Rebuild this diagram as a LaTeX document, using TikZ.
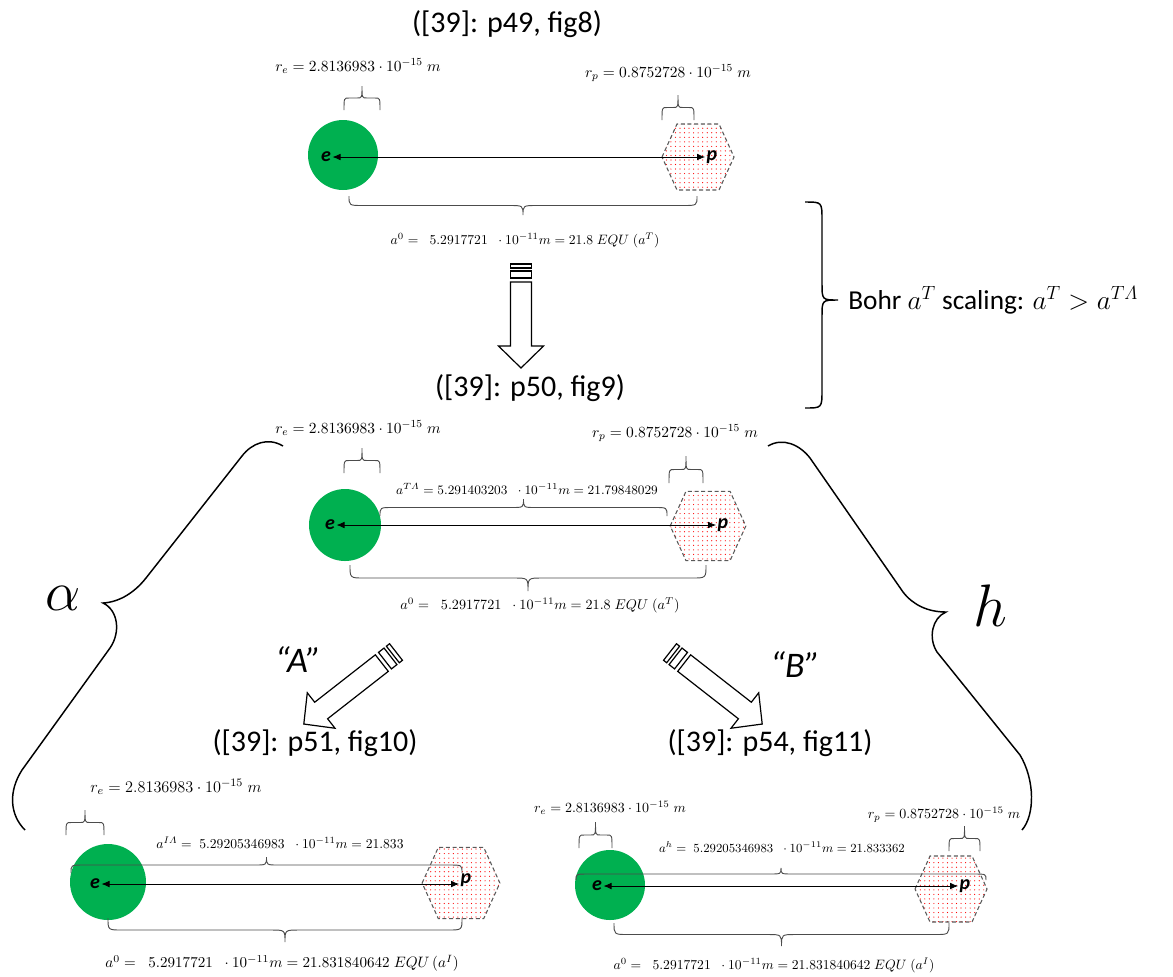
\documentclass[tikz,border=0pt]{standalone}
\usepackage{fix-cm}
\usepackage[no-math]{fontspec}
\newfontfamily\calib{Carlito}
\usetikzlibrary{arrows.meta,patterns.meta}
\definecolor{egreen}{HTML}{00B050}
\newcommand\fsz[1]{\fontsize{#1}{#1}\selectfont}
\newcommand\itLam{\mathchar"0103}
% brace: x1 x2 yend ytip rx style
\newcommand\brc[6]{%
 \pgfmathsetmacro\bxm{(#1+#2)/2}%
 \pgfmathsetmacro\bym{(#3+#4)/2}%
 \draw[#6] (#1,#3) .. controls (#1,\bym) .. ({#1+#5},\bym) -- ({\bxm-#5},\bym) .. controls (\bxm,\bym) .. (\bxm,#4) .. controls (\bxm,\bym) .. ({\bxm+#5},\bym) -- ({#2-#5},\bym) .. controls (#2,\bym) .. (#2,#3);}
% hexagon: x y scale name
\newcommand\hexa[4]{%
 \coordinate (#4) at (#1,#2);
 \begin{scope}[shift={(#4)}, scale=#3]
  \filldraw[prot] (-36,0) -- (-21,-33) -- (21,-33) -- (36,0) -- (21,33) -- (-21,33) -- cycle;
 \end{scope}}
% striped block arrow: tail, angle, length
\newcommand\blockarrow[3]{%
 \begin{scope}[shift={#1}, rotate=#2]
  \draw[barrow] (0,-10.5) rectangle (4,10.5);
  \draw[barrow] (7,-10.5) rectangle (14,10.5);
  \draw[barrow] (18,-10.5) -- ({#3-22},-10.5) -- ({#3-22},-22.5) -- (#3,0) -- ({#3-22},22.5) -- ({#3-22},10.5) -- (18,10.5) -- cycle;
 \end{scope}}
\tikzset{
 prot/.style={pattern={Dots[distance=3.4pt,radius=0.45pt]}, pattern color=red, draw=black!65, dash pattern=on 3pt off 2pt, line width=0.8pt},
 elec/.style={circle, fill=egreen, draw=none, inner sep=0pt},
 ep/.style={inner sep=1pt, font=\calib\fsz{15}\bfseries\itshape},
 dbl/.style={{Latex[length=6pt,width=5pt]}-{Latex[length=6pt,width=5pt]}, line width=0.6pt},
 sbrace/.style={draw=black!70, line width=0.7pt},
 bigbrace/.style={draw=black, line width=1.1pt},
 barrow/.style={draw=black, fill=white, line width=0.9pt, line join=miter},
 ttl/.style={inner sep=0pt, font=\calib\fsz{22.5}},
 mlbl/.style={inner sep=0pt, text=black},
}
\begin{document}
\begin{tikzpicture}[x=0.75pt,y=-0.75pt]
\useasboundingbox (0,0) rectangle (1173,976);

% ---------- titles ----------
\node[ttl] (t1) at (507,24) {([39]: p49, fig8)};
\node[ttl] (t2) at (530,388) {([39]: p50, fig9)};
\node[ttl] (t3) at (315,743) {([39]: p51, fig10)};
\node[ttl] (t4) at (770,743) {([39]: p54, fig11)};

% ---------- fig 8 ----------
\node[elec, minimum size=52.5pt] (c1) at (343,155) {};
\hexa{698}{157}{1}{h1}
\node[ep] (e1) at (326,157) {e};
\node[ep] (p1) at (712,157) {p};
\draw[dbl] (e1.east) -- (p1.west);
\brc{344}{380}{110}{86}{5}{sbrace}
\brc{662}{694}{120}{95}{5}{sbrace}
\brc{349}{697}{196}{215}{14}{sbrace}
\node[mlbl, font=\fsz{11.6}] (re1) at (358,66) {$r_e = 2.8136983\cdot 10^{-15}\;m$};
\node[mlbl, font=\fsz{11.6}] (rp1) at (668,73) {$r_p = 0.8752728\cdot 10^{-15}\;m$};
\node[mlbl, font=\fsz{10.2}] (a01) at (525,240) {$a^0 =\;\; 5.2917721\;\;\cdot 10^{-11}m = 21.8\;EQU\;(a^T)$};

% ---------- Bohr brace ----------
\draw[bigbrace] (805,202) .. controls (822,202) .. (822,220) -- (822,283) .. controls (822,300) .. (838,300) .. controls (822,300) .. (822,317) -- (822,390) .. controls (822,408) .. (805,408);
\node[anchor=west, inner sep=0pt, font=\calib\fsz{20.5}] (bohr) at (848,300) {Bohr $a^T$ scaling: $a^T > a^{T\itLam}$};

% ---------- down arrow ----------
\blockarrow{(521,264)}{-90}{104}

% ---------- fig 9 ----------
\node[elec, minimum size=54pt] (c2) at (345,525) {};
\hexa{708}{526}{1.05}{h2}
\node[ep] (e2) at (330,525) {e};
\node[ep] (p2) at (723,525) {p};
\draw[dbl] (e2.east) -- (p2.west);
\brc{344}{380}{473}{448}{5}{sbrace}
\brc{669}{703}{483}{456}{5}{sbrace}
\brc{380}{667}{516}{499}{12}{sbrace}
\brc{350}{706}{565}{591}{14}{sbrace}
\node[mlbl, font=\fsz{11.6}] (re2) at (358,428) {$r_e = 2.8136983\cdot 10^{-15}\;m$};
\node[mlbl, font=\fsz{11.6}] (rp2) at (675,433) {$r_p = 0.8752728\cdot 10^{-15}\;m$};
\node[mlbl, font=\fsz{9.7}] (atl) at (527,489) {$a^{T\itLam} = 5.291403203\;\;\cdot 10^{-11}m = 21.79848029$};
\node[mlbl, font=\fsz{10.6}] (a02) at (540,605) {$a^0 =\;\; 5.2917721\;\;\cdot 10^{-11}m = 21.8\;EQU\;(a^T)$};

% ---------- big braces ----------
\draw[bigbrace] (283,446) .. controls (268,437) and (252,443) .. (242,456) -- (146,578) .. controls (135,592) and (120,602) .. (103,603) .. controls (118,610) and (121,632) .. (110,648) -- (22,770) .. controls (8,792) and (10,815) .. (25,830);
\draw[bigbrace] (768,446) .. controls (783,437) and (800,445) .. (810,458) -- (903,592) .. controls (913,605) and (928,612) .. (946,612) .. controls (932,618) and (928,638) .. (937,652) -- (1020,755) .. controls (1035,780) and (1035,815) .. (1022,830);
\node[inner sep=0pt, font=\fsz{42}] (alpha) at (63,598) {$\alpha$};
\node[inner sep=0pt, font=\fsz{45}] (hh) at (990,606) {$h$};

% ---------- diagonal arrows ----------
\blockarrow{(396,652)}{-142}{117}
\blockarrow{(670,652)}{-38}{117}
\node[inner sep=0pt, font=\calib\fsz{27}\itshape] (qa) at (298,660) {“A”};
\node[inner sep=0pt, font=\calib\fsz{27}\itshape] (qb) at (795,665) {“B”};

% ---------- fig 10 ----------
\node[elec, minimum size=57pt] (c3) at (108,882) {};
\hexa{461}{883}{1.08}{h3}
\node[ep] (e3) at (95,884) {e};
\node[ep] (p3) at (466,880) {p};
\draw[dbl] (e3.east) -- (p3.west |- e3.east);
\brc{66}{104}{835}{810}{5}{sbrace}
\brc{71}{462}{873}{857}{12}{sbrace}
\brc{108}{462}{918}{942}{14}{sbrace}
\node[mlbl, font=\fsz{12.2}] (re3) at (176,787) {$r_e = 2.8136983\cdot 10^{-15}\;m$};
\node[mlbl, font=\fsz{10.2}] (ail) at (280,843) {$a^{I\itLam} =\; 5.29205346983\;\;\cdot 10^{-11}m = 21.833$};
\node[mlbl, font=\fsz{11.3}] (a03) at (282,963) {$a^0 =\;\; 5.2917721\;\;\cdot 10^{-11}m = 21.831840642\;EQU\,(a^I)$};

% ---------- fig 11 ----------
\node[elec, minimum size=52.5pt] (c4) at (610,885) {};
\hexa{951}{889}{1}{h4}
\node[ep] (e4) at (597,886) {e};
\node[ep] (p4) at (965,886) {p};
\draw[dbl] (e4.east) -- (p4.west);
\brc{579}{612}{848}{822}{5}{sbrace}
\brc{949}{980}{851}{826}{5}{sbrace}
\brc{576}{986}{880}{868}{12}{sbrace}
\brc{614}{949}{923}{946}{14}{sbrace}
\node[mlbl, font=\fsz{10.5}] (re4) at (610,808) {$r_e = 2.8136983\cdot 10^{-15}\;m$};
\node[mlbl, font=\fsz{10.5}] (rp4) at (944,815) {$r_p = 0.8752728\cdot 10^{-15}\;m$};
\node[mlbl, font=\fsz{9.3}] (ah) at (782,847) {$a^h =\; 5.29205346983\;\;\cdot 10^{-11}m = 21.833362$};
\node[mlbl, font=\fsz{10.2}] (a04) at (774,965) {$a^0 =\;\; 5.2917721\;\;\cdot 10^{-11}m = 21.831840642\;EQU\;(a^I)$};
\end{tikzpicture}
\end{document}
